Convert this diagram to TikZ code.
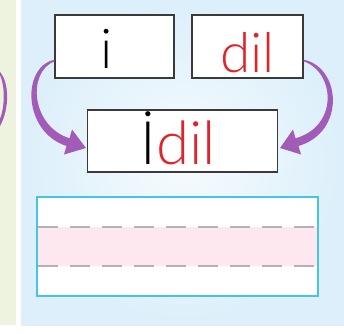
\documentclass[tikz,border=0pt]{standalone}
\usepackage{fontspec}
\setmainfont{Lato}[UprightFont=* Light]
\usetikzlibrary{arrows.meta,calc}
\definecolor{panelout}{HTML}{DCEFFA}
\definecolor{panelin}{HTML}{F6FBFE}
\definecolor{leftbg}{HTML}{EEF3E0}
\definecolor{arrowpurple}{HTML}{A25CB7}
\definecolor{wordred}{HTML}{E0242C}
\definecolor{boxline}{HTML}{3A3A3A}
\definecolor{linecyan}{HTML}{45C4E3}
\definecolor{bandpink}{HTML}{FCE8EE}
\definecolor{dashgray}{HTML}{B9AEB0}
\tikzset{
  wordbox/.style={draw=boxline, fill=white, line width=1.1pt, inner sep=0pt},
  topfont/.style={font=\fontsize{55}{60}\selectfont},
  botfont/.style={font=\fontsize{60}{64}\selectfont},
  parrow/.style={fill=arrowpurple},
  guide/.style={draw=dashgray, line width=1.1pt, dash pattern=on 20pt off 12pt}
}
\begin{document}
\begin{tikzpicture}[x=1pt,y=-1pt]
\useasboundingbox (0,0) rectangle (344,333);
\fill[white] (0,0) rectangle (344,333);
\fill[leftbg] (0,0) rectangle (16,325);
\shade[inner color=panelin, outer color=panelout] (21,0) rectangle (344,325);
% piece of arrow from the previous panel
\fill[arrowpurple] (0,72) .. controls (9,82) and (10,108) .. (0,126)
  -- (0,119) .. controls (5,106) and (5,86) .. (0,75) -- cycle;
% word boxes
\node[wordbox, topfont, minimum width=119pt, minimum height=63pt,
  text height=43pt, text depth=0pt] (bi) at (114.5,46.5) {i\kern15pt};
\node[wordbox, topfont, text=wordred, minimum width=111pt, minimum height=63pt,
  text height=51pt, text depth=0pt] (bd) at (247.5,46.5) {dil};
\node[wordbox, botfont, minimum width=190pt, minimum height=62pt,
  text height=47pt, text depth=0pt] (bc) at (182.5,141) {İ\textcolor{wordred}{dil}\kern8pt};
% arrows (tapered connectors)
\coordinate (ls) at ([yshift=-14pt]bi.west);
\coordinate (lt) at ([shift={(-1pt,-7pt)}]bc.west);
\coordinate (rs) at ([yshift=-14pt]bd.east);
\coordinate (rt) at ([shift={(2pt,-7pt)}]bc.east);
\path[parrow] ($(ls)+(0,-0.8)$) .. controls (21,67) and (23,132) .. (66.5,146)
  -- (64,154.5) -- (lt) -- (72,129.5) -- (69.5,138.3)
  .. controls (31,126) and (27,72) .. ($(ls)+(0,0.8)$) -- cycle;
\path[parrow] ($(rs)+(0,-0.8)$) .. controls (341,67) and (346,132) .. (298.5,146)
  -- (301,154.5) -- (rt) -- (293,129.5) -- (295.5,138.3)
  .. controls (339,126) and (335,72) .. ($(rs)+(0,0.8)$) -- cycle;
% writing lines
\fill[white] (37,197) rectangle (318,296);
\fill[bandpink] (37,227) rectangle (318,266);
\draw[guide] (38,227) -- (317,227);
\draw[guide] (38,266) -- (317,266);
\draw[linecyan, line width=1.6pt] (37,197) rectangle (318,296);
\end{tikzpicture}
\end{document}
